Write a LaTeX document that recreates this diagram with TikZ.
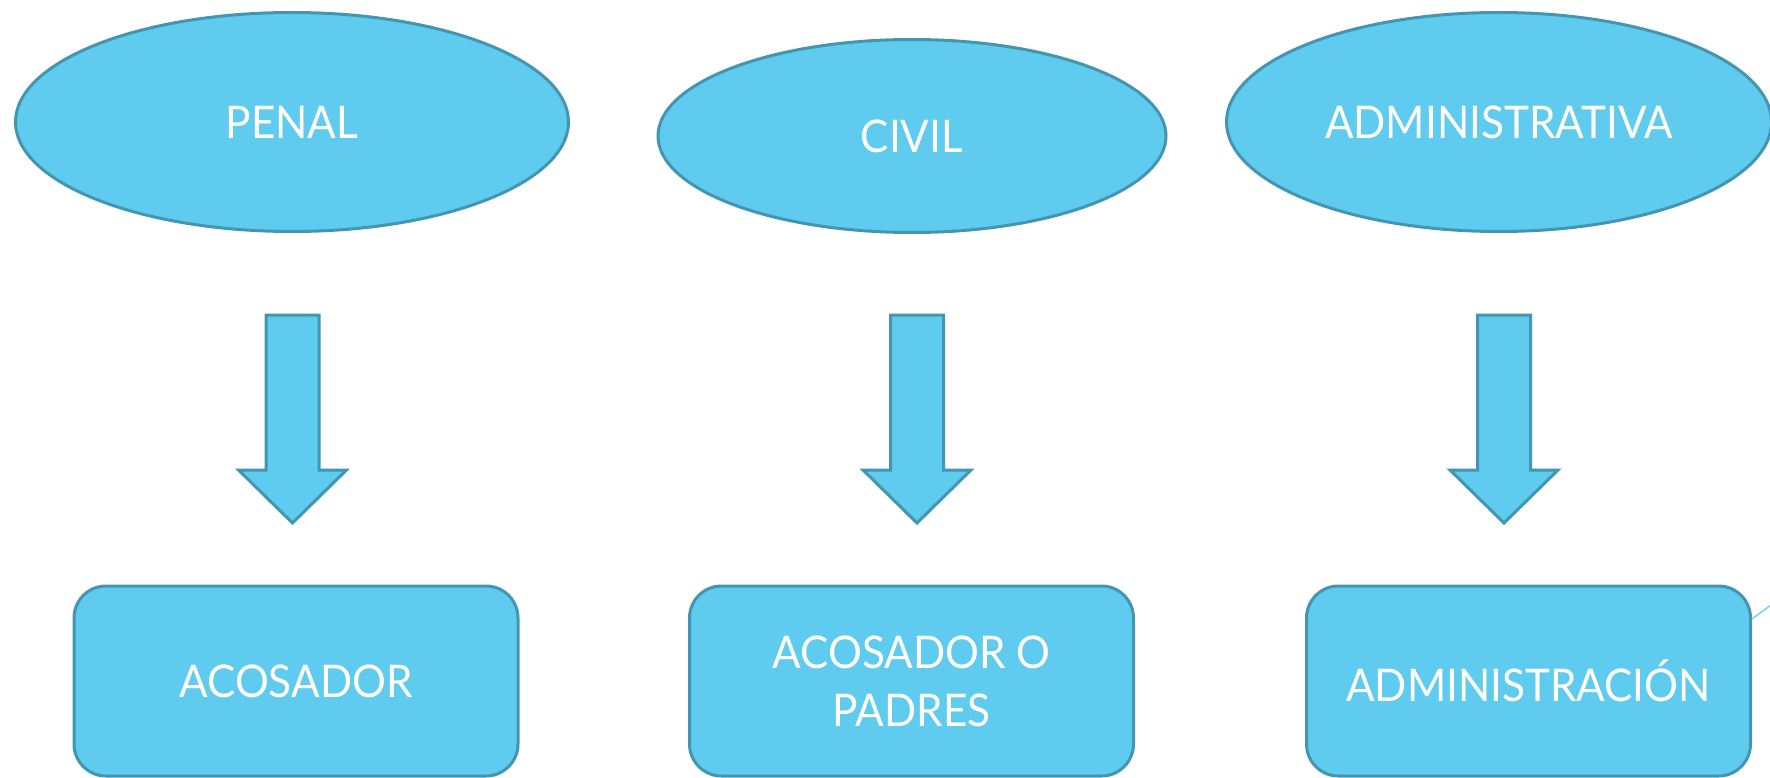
\documentclass[tikz,border=0pt]{standalone}
\usepackage{fontspec}
\setmainfont{Lato}[FakeStretch=0.94]
\usetikzlibrary{shapes.geometric}
\definecolor{fillblue}{RGB}{95,203,239}
\definecolor{edgeblue}{RGB}{67,150,178}
\definecolor{lineblue}{RGB}{120,210,240}
\tikzset{
  ell/.style={ellipse, draw=edgeblue, fill=fillblue, line width=3pt, text=white, font=\fontsize{45}{52}\selectfont, inner sep=0pt},
  rbox/.style={rectangle, rounded corners=32pt, draw=edgeblue, fill=fillblue, line width=3pt, text=white, font=\fontsize{45}{58}\selectfont, align=center, inner sep=0pt, minimum width=444pt, minimum height=190pt},
  blk/.style={draw=edgeblue, fill=fillblue, line width=3pt, line join=miter},
}
\begin{document}
\begin{tikzpicture}[x=1pt,y=-1pt]
\useasboundingbox (0,0) rectangle (1770,778);
\begin{scope}
\clip (0,0) rectangle (1770,778);
\node[ell, minimum width=553pt, minimum height=219pt] (penal) at (292,122) {\raisebox{-2pt}{PENAL}};
\node[ell, minimum width=508pt, minimum height=193pt] (civil) at (912,136) {\raisebox{-2pt}{CIVIL}};
\node[ell, minimum width=545pt, minimum height=219pt] (admin) at (1499,122) {\raisebox{-2pt}{ADMINISTRATIVA}};
\draw[blk] (266,315) -- (319,315) -- (319,470) -- (346.5,470) -- (292.5,523) -- (238.5,470) -- (266,470) -- cycle;
\draw[blk] (890.5,315) -- (943.5,315) -- (943.5,470) -- (971,470) -- (917,523) -- (863,470) -- (890.5,470) -- cycle;
\draw[blk] (1477.5,315) -- (1530.5,315) -- (1530.5,470) -- (1558,470) -- (1504,523) -- (1450,470) -- (1477.5,470) -- cycle;
\node[rbox] (acosador) at (296,681) {\raisebox{-4pt}{ACOSADOR}};
\node[rbox] (padres) at (911.5,681) {ACOSADOR O\\PADRES};
\node[rbox] (administracion) at (1528.5,681) {\raisebox{-4pt}{ADMINISTRACIÓN}};
\coordinate (off) at (1775,602);
\draw[lineblue, line width=1.5pt] (administracion.east |- 0,619) -- (off);
\end{scope}
\end{tikzpicture}
\end{document}
